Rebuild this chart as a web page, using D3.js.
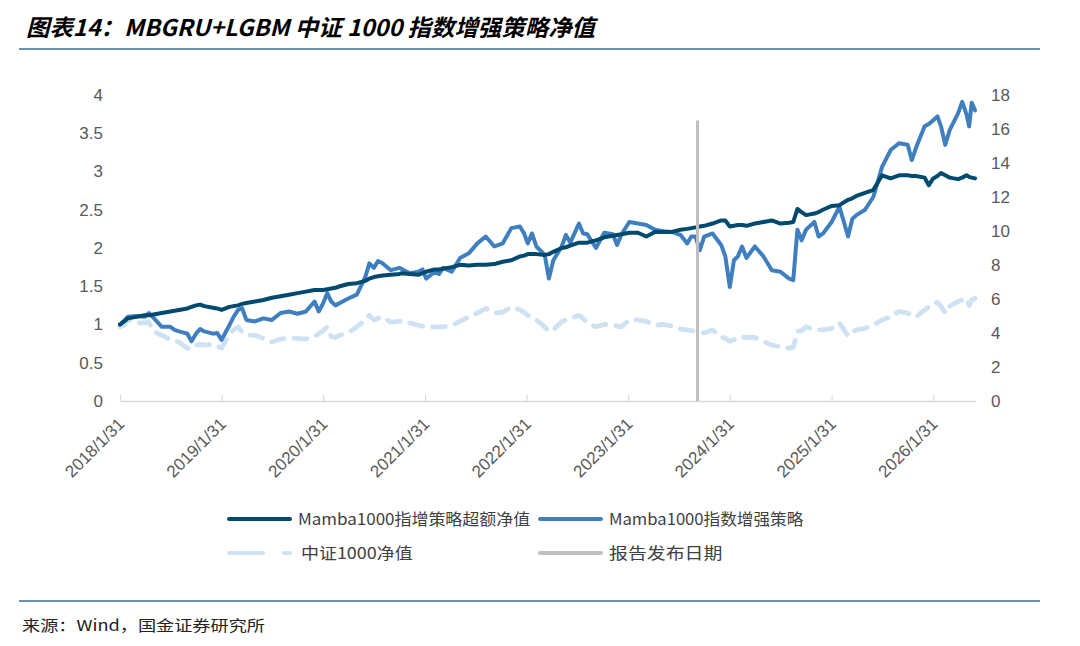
<!DOCTYPE html>
<html>
<head>
<meta charset="utf-8">
<script src="https://cdn.jsdelivr.net/npm/d3@7"></script>
<style>
  body { margin: 0; background: #fff; }
  svg { display: block; }
</style>
</head>
<body>
<script>
// sample dates (about two per month)
const dates = [
  '2018-01-31','2018-02-15','2018-02-28','2018-03-31','2018-04-30','2018-05-15','2018-05-31','2018-06-30','2018-07-31','2018-08-15','2018-08-31','2018-09-30','2018-10-15','2018-10-31','2018-11-15','2018-11-30','2018-12-31',
  '2019-01-15','2019-01-31','2019-02-28','2019-03-15','2019-03-31','2019-04-15','2019-04-30','2019-05-31','2019-06-30','2019-07-31','2019-08-31','2019-09-30','2019-10-31','2019-11-30','2019-12-31',
  '2020-01-15','2020-01-31','2020-02-15','2020-02-29','2020-03-15','2020-03-31','2020-04-30','2020-05-31','2020-06-30','2020-07-15','2020-07-31','2020-08-15','2020-08-31','2020-09-30','2020-10-31','2020-11-06','2020-12-07',
  '2021-01-07','2021-01-22','2021-02-04','2021-03-07','2021-03-22','2021-04-06','2021-05-07','2021-06-06','2021-07-07','2021-08-07','2021-09-06','2021-10-07','2021-11-06','2021-12-07',
  '2022-01-07','2022-01-22','2022-02-04','2022-02-19','2022-03-07','2022-04-06','2022-04-21','2022-05-07','2022-06-06','2022-06-21','2022-07-07','2022-08-07','2022-08-22','2022-09-06','2022-10-07','2022-11-06','2022-12-07','2022-12-22',
  '2023-01-07','2023-02-04','2023-03-07','2023-04-06','2023-05-07','2023-06-06','2023-07-07','2023-08-07','2023-08-31','2023-09-15','2023-09-30','2023-10-15','2023-10-31','2023-11-30','2023-12-31',
  '2024-01-15','2024-01-31','2024-02-15','2024-02-29','2024-03-15','2024-03-31','2024-04-30','2024-05-31','2024-06-30','2024-07-31','2024-08-31','2024-09-15','2024-09-30','2024-10-15','2024-10-31','2024-11-30','2024-12-15','2024-12-31',
  '2025-01-31','2025-02-28','2025-03-31','2025-04-15','2025-04-30','2025-05-31','2025-06-30','2025-07-31','2025-08-31','2025-09-30','2025-10-31','2025-11-15','2025-11-30','2025-12-31',
  '2026-01-15','2026-01-31','2026-02-15','2026-02-28','2026-03-15','2026-03-31','2026-04-30','2026-05-15','2026-05-31','2026-06-09','2026-06-18','2026-06-30'
];

// Mamba1000指增策略超额净值
const excessValues = [
  1.00,1.04,1.08,1.10,1.12,1.12,1.13,1.15,1.17,1.18,1.19,1.21,1.23,1.25,1.26,1.24,1.22,
  1.21,1.19,1.23,1.24,1.25,1.27,1.28,1.30,1.32,1.35,1.37,1.39,1.41,1.43,1.45,
  1.45,1.45,1.46,1.47,1.48,1.50,1.53,1.54,1.57,1.60,1.62,1.63,1.64,1.65,1.66,1.67,1.66,
  1.65,1.67,1.69,1.72,1.72,1.73,1.75,1.78,1.77,1.78,1.78,1.79,1.82,1.84,
  1.89,1.90,1.92,1.92,1.92,1.91,1.92,1.95,2.00,2.01,2.03,2.07,2.07,2.07,2.10,2.14,2.16,2.17,
  2.18,2.20,2.20,2.15,2.21,2.21,2.21,2.24,2.25,2.26,2.27,2.28,2.29,2.32,2.36,
  2.36,2.28,2.29,2.30,2.30,2.29,2.32,2.34,2.36,2.32,2.33,2.34,2.51,2.47,2.43,2.45,2.47,2.50,
  2.55,2.56,2.63,2.65,2.68,2.72,2.76,2.95,2.91,2.95,2.95,2.94,2.94,2.92,
  2.82,2.91,2.94,2.98,2.95,2.92,2.90,2.92,2.95,2.93,2.92,2.91
];

// Mamba1000指数增强策略
const strategyValues = [
  1.00,1.05,1.10,1.11,1.10,1.15,1.09,0.97,0.97,0.93,0.91,0.88,0.78,0.88,0.94,0.91,0.88,
  0.89,0.80,0.99,1.10,1.19,1.21,1.06,1.04,1.08,1.06,1.15,1.17,1.14,1.17,1.30,
  1.17,1.28,1.41,1.30,1.25,1.28,1.34,1.39,1.62,1.80,1.74,1.83,1.80,1.71,1.74,1.73,1.67,
  1.69,1.72,1.60,1.69,1.66,1.74,1.69,1.87,1.93,2.06,2.15,2.02,2.06,2.26,
  2.28,2.19,2.06,2.19,2.02,1.91,1.60,1.84,2.02,2.17,2.07,2.32,2.19,2.18,2.00,2.20,2.18,2.04,
  2.18,2.34,2.32,2.30,2.24,2.22,2.21,2.17,2.06,2.15,2.15,1.97,2.15,2.19,2.04,
  1.89,1.49,1.84,1.89,2.02,1.87,2.02,1.89,1.71,1.69,1.60,1.58,2.24,2.10,2.24,2.34,2.15,2.19,
  2.34,2.54,2.15,2.38,2.43,2.50,2.67,3.06,3.28,3.37,3.35,3.15,3.31,3.59,
  3.62,3.67,3.72,3.59,3.35,3.54,3.76,3.91,3.74,3.59,3.90,3.80
];

// 中证1000净值
const indexValues = [
  0.97,0.99,1.06,1.02,1.02,1.03,0.91,0.86,0.80,0.79,0.77,0.69,0.68,0.73,0.74,0.73,0.74,
  0.72,0.69,0.88,0.93,0.97,0.90,0.86,0.86,0.82,0.77,0.81,0.82,0.82,0.81,0.84,
  0.88,0.92,0.97,0.84,0.83,0.86,0.89,0.97,1.06,1.12,1.06,1.08,1.10,1.03,1.04,1.04,1.02,
  0.99,0.98,0.97,0.97,0.97,0.97,0.99,1.04,1.10,1.15,1.21,1.15,1.16,1.23,
  1.19,1.16,1.12,1.09,1.06,0.97,0.91,0.93,1.04,1.06,1.08,1.12,1.08,1.02,0.97,1.00,1.00,0.98,
  0.97,1.06,1.06,1.04,0.99,1.00,0.98,0.94,0.93,0.92,0.91,0.90,0.89,0.93,0.84,
  0.82,0.78,0.80,0.83,0.84,0.83,0.83,0.78,0.73,0.71,0.69,0.70,0.91,0.92,0.97,0.93,0.93,0.93,
  0.95,1.02,0.85,0.90,0.93,0.95,0.99,1.06,1.10,1.17,1.15,1.12,1.10,1.19,
  1.23,1.28,1.29,1.24,1.15,1.24,1.30,1.32,1.34,1.25,1.32,1.34
];

// 报告发布日期 (drawn against the right axis)
const reportDate = '2023-10-07';
const reportHeight = 16.5;

const seriesNames = ['Mamba1000指增策略超额净值', 'Mamba1000指数增强策略', '中证1000净值', '报告发布日期'];
const xTickDates = ['2018-01-31','2019-01-31','2020-01-31','2021-01-31','2022-01-31','2023-01-31','2024-01-31','2025-01-31','2026-01-31'];
const leftTicks = [0, 0.5, 1, 1.5, 2, 2.5, 3, 3.5, 4];
const rightTicks = [0, 2, 4, 6, 8, 10, 12, 14, 16, 18];
const xDomain = ['2018-01-31', '2026-06-30'];

const title = '图表14：MBGRU+LGBM 中证 1000 指数增强策略净值';
const source = '来源：Wind，国金证券研究所';

// dimensions
const width = 1080;
const height = 646;
const margin = {top: 95, right: 105, bottom: 245, left: 120};
const cjkFont = '"Noto Sans CJK SC", "Noto Sans", sans-serif';
const numFont = '"Liberation Sans", Arial, sans-serif';

const parse = d3.timeParse('%Y-%m-%d');
const rows = dates.map((d, i) => ({
  date: parse(d),
  excess: excessValues[i],
  strategy: strategyValues[i],
  index: indexValues[i]
}));

// scales
const xScale = d3.scaleTime()
  .domain(xDomain.map(parse))
  .range([margin.left, width - margin.right]);

const yLeft = d3.scaleLinear()
  .domain([0, 4])
  .range([height - margin.bottom, margin.top]);

const yRight = d3.scaleLinear()
  .domain([0, 18])
  .range([height - margin.bottom, margin.top]);

const svg = d3.select('body')
  .append('svg')
  .attr('width', width)
  .attr('height', height)
  .style('background', '#fff');

// title and its rule
svg.append('text')
  .attr('x', 26)
  .attr('y', 35.5)
  .attr('textLength', 569)
  .attr('lengthAdjust', 'spacingAndGlyphs')
  .style('font-family', cjkFont)
  .style('font-size', '23px')
  .style('font-weight', 'bold')
  .style('font-style', 'italic')
  .style('fill', '#000')
  .text(title);

svg.append('line')
  .attr('x1', 19).attr('x2', 1040)
  .attr('y1', 49).attr('y2', 49)
  .style('stroke', '#3b6e98')
  .style('stroke-width', 1.6);

// x axis
const xAxis = d3.axisBottom(xScale)
  .tickValues(xTickDates.map(parse))
  .tickSize(-6)
  .tickSizeOuter(0)
  .tickFormat(d3.timeFormat('%Y/%-m/%-d'));

const gx = svg.append('g')
  .attr('transform', `translate(0, ${height - margin.bottom})`)
  .call(xAxis);

gx.select('.domain').style('stroke', '#d9d9d9').style('stroke-width', 1.5);
gx.selectAll('.tick line').style('stroke', '#d9d9d9').style('stroke-width', 1.2);
gx.selectAll('.tick text')
  .attr('x', 0).attr('y', 0).attr('dy', 0)
  .attr('transform', 'translate(5, 24) rotate(-45)')
  .style('text-anchor', 'end')
  .style('font-family', numFont)
  .style('font-size', '17px')
  .style('fill', '#595959');

// left axis
const gl = svg.append('g')
  .attr('transform', `translate(${margin.left}, 0)`)
  .call(d3.axisLeft(yLeft).tickValues(leftTicks).tickFormat(d => String(d)).tickSize(0).tickPadding(17));

// right axis
const gr = svg.append('g')
  .attr('transform', `translate(${width - margin.right}, 0)`)
  .call(d3.axisRight(yRight).tickValues(rightTicks).tickFormat(d => String(d)).tickSize(0).tickPadding(16));

[gl, gr].forEach(g => {
  g.select('.domain').remove();
  g.selectAll('text')
    .style('font-family', numFont)
    .style('font-size', '17px')
    .style('fill', '#595959');
});

// the lines
const line = key => d3.line()
  .x(d => xScale(d.date))
  .y(d => yLeft(d[key]));

const styles = [
  {key: 'index', color: '#cfe2f3', width: 4.8, dash: '13,10'},
  {key: 'strategy', color: '#3f7fc0', width: 4, dash: null},
  {key: 'excess', color: '#004a70', width: 4, dash: null}
];

styles.forEach(s => {
  svg.append('path')
    .datum(rows)
    .attr('d', line(s.key))
    .style('fill', 'none')
    .style('stroke', s.color)
    .style('stroke-width', s.width)
    .style('stroke-linejoin', 'round')
    .style('stroke-linecap', 'round')
    .style('stroke-dasharray', s.dash);
});

// report release date marker
svg.append('line')
  .attr('x1', xScale(parse(reportDate)))
  .attr('x2', xScale(parse(reportDate)))
  .attr('y1', yRight(0))
  .attr('y2', yRight(reportHeight))
  .style('stroke', '#bfbfbf')
  .style('stroke-width', 3);

// legend
const legendItems = [
  {name: seriesNames[0], color: '#004a70', dash: null, col: 0, row: 0},
  {name: seriesNames[1], color: '#3f7fc0', dash: null, col: 1, row: 0},
  {name: seriesNames[2], color: '#cfe2f3', dash: '34,21', col: 0, row: 1},
  {name: seriesNames[3], color: '#bfbfbf', dash: null, col: 1, row: 1}
];
const legendX = [227, 538];
const legendY = [519, 553];
// width of the legend text: half width latin, full width CJK
const textWidth = s => Array.from(s).reduce((w, c) => w + (c.charCodeAt(0) > 255 ? 18.9 : 9.0), 0);

const legend = svg.append('g');
legendItems.forEach(item => {
  const x0 = legendX[item.col];
  const y0 = legendY[item.row];
  legend.append('line')
    .attr('x1', x0 + 2).attr('x2', x0 + 63)
    .attr('y1', y0).attr('y2', y0)
    .style('stroke', item.color)
    .style('stroke-width', 4)
    .style('stroke-linecap', 'round')
    .style('stroke-dasharray', item.dash);
  legend.append('text')
    .attr('x', x0 + (item.row === 1 && item.col === 0 ? 74 : 71))
    .attr('y', y0)
    .attr('dy', '0.36em')
    .attr('textLength', textWidth(item.name))
    .attr('lengthAdjust', 'spacingAndGlyphs')
    .style('font-family', cjkFont)
    .style('font-size', '16px')
    .style('fill', '#404040')
    .text(item.name);
});

// footer
svg.append('line')
  .attr('x1', 19).attr('x2', 1040)
  .attr('y1', 601).attr('y2', 601)
  .style('stroke', '#3b6e98')
  .style('stroke-width', 1.6);

svg.append('text')
  .attr('x', 22)
  .attr('y', 631)
  .attr('textLength', 243)
  .attr('lengthAdjust', 'spacingAndGlyphs')
  .style('font-family', cjkFont)
  .style('font-size', '15px')
  .style('fill', '#222')
  .text(source);
</script>
</body>
</html>
